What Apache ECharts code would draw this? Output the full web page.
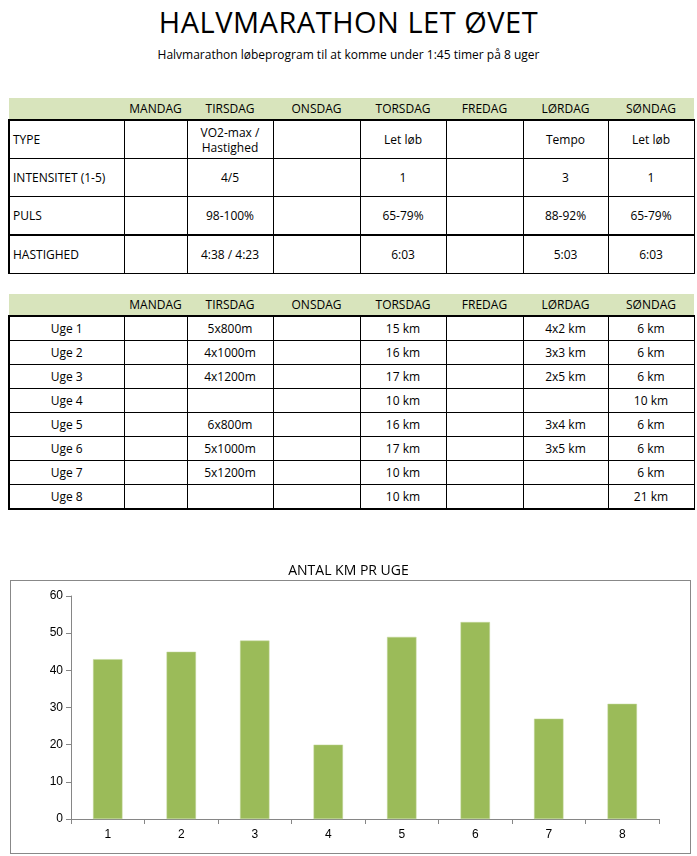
<!DOCTYPE html>
<html>
<head>
<meta charset="utf-8">
<script src="https://cdn.jsdelivr.net/npm/echarts@6/dist/echarts.min.js"></script>
<style>
body { margin: 0; width: 697px; height: 856px; background: #fff; font-family: "Open Sans", sans-serif; position: relative; overflow: hidden; }
h1 { position: absolute; top: 2px; left: 0; width: 697px; margin: 0; text-align: center; font-weight: normal; font-size: 29px; letter-spacing: 0.5px; }
.sub { position: absolute; top: 46px; left: 0; width: 697px; text-align: center; font-size: 12px; }
table { position: absolute; left: 8px; border-collapse: collapse; font-size: 12px; table-layout: fixed; }
td { text-align: center; padding: 0; line-height: 15px; }
td.l { text-align: left; padding-left: 3px; }
tr.hd td { background: #d8e4bc; height: 21px; border-bottom: 2px solid #000; }
#t1 td, #t2 td { border-left: 1px solid #000; }
#t1 tr.hd td, #t2 tr.hd td { border-left: none; }
#t1 tr:not(.hd) td { height: 37px; border-bottom: 1px solid #000; }
#t1 tr:not(.hd) td:first-child, #t2 tr:not(.hd) td:first-child { border-left: 2px solid #000; }
#t1 tr:not(.hd) td:last-child, #t2 tr:not(.hd) td:last-child { border-right: 1px solid #000; }
#t1 tr.thick td { border-bottom: 2px solid #000; }
#t2 tr:not(.hd) td { height: 23px; border-bottom: 1px solid #000; }
#t2 tr:last-child td { border-bottom: 2px solid #000; }
#box { position: absolute; left: 10px; top: 580px; width: 679px; height: 272px; border: 1px solid #888; }
#chart { position: absolute; left: 0; top: 540px; width: 697px; height: 316px; }
</style>
</head>
<body>
<h1>HALVMARATHON LET ØVET</h1>
<div class="sub">Halvmarathon løbeprogram til at komme under 1:45 timer på 8 uger</div>
<table id="t1"></table>
<table id="t2"></table>
<div id="box"></div>
<div id="chart"></div>
<script>
var days = ['', 'MANDAG', 'TIRSDAG', 'ONSDAG', 'TORSDAG', 'FREDAG', 'LØRDAG', 'SØNDAG'];
var colWidths = [115, 63, 86, 87, 86, 77, 85, 86];
var infoRows = [
    ['TYPE', '', 'VO2-max /<br>Hastighed', '', 'Let løb', '', 'Tempo', 'Let løb'],
    ['INTENSITET (1-5)', '', '4/5', '', '1', '', '3', '1'],
    ['PULS', '', '98-100%', '', '65-79%', '', '88-92%', '65-79%'],
    ['HASTIGHED', '', '4:38 / 4:23', '', '6:03', '', '5:03', '6:03']
];
var weekRows = [
    ['Uge 1', '', '5x800m', '', '15 km', '', '4x2 km', '6 km'],
    ['Uge 2', '', '4x1000m', '', '16 km', '', '3x3 km', '6 km'],
    ['Uge 3', '', '4x1200m', '', '17 km', '', '2x5 km', '6 km'],
    ['Uge 4', '', '', '', '10 km', '', '', '10 km'],
    ['Uge 5', '', '6x800m', '', '16 km', '', '3x4 km', '6 km'],
    ['Uge 6', '', '5x1000m', '', '17 km', '', '3x5 km', '6 km'],
    ['Uge 7', '', '5x1200m', '', '10 km', '', '', '6 km'],
    ['Uge 8', '', '', '', '10 km', '', '', '21 km']
];
var weeks = ['1', '2', '3', '4', '5', '6', '7', '8'];
var kmPerWeek = [43, 45, 48, 20, 49, 53, 27, 31];

function buildTable(id, top, rows, leftAlign) {
    var t = document.getElementById(id);
    t.style.top = top + 'px';
    var html = '<colgroup>' + colWidths.map(function (w) { return '<col style="width:' + w + 'px">'; }).join('') + '</colgroup>';
    html += '<tr class="hd">' + days.map(function (d) { return '<td>' + d + '</td>'; }).join('') + '</tr>';
    rows.forEach(function (r, i) {
        var cls = (id === 't1' && i === 2) ? ' class="thick"' : '';
        html += '<tr' + cls + '>' + r.map(function (c, j) {
            return '<td' + (j === 0 && leftAlign ? ' class="l"' : '') + '>' + c + '</td>';
        }).join('') + '</tr>';
    });
    t.innerHTML = html;
}
buildTable('t1', 98, infoRows, true);
buildTable('t2', 294, weekRows, false);

var myChart = echarts.init(document.getElementById('chart'));
myChart.setOption({
    animation: false,
    title: {
        text: 'ANTAL KM PR UGE',
        left: 'center',
        top: 19,
        textStyle: { fontSize: 14, fontWeight: 'normal', color: '#000', fontFamily: 'Open Sans' }
    },
    grid: { left: 71, right: 38, top: 56, bottom: 37 },
    xAxis: {
        type: 'category',
        data: weeks,
        axisLine: { lineStyle: { color: '#868686' } },
        axisTick: { show: true, length: 5, lineStyle: { color: '#868686' } },
        axisLabel: { color: '#000', fontSize: 12, margin: 10 }
    },
    yAxis: {
        type: 'value',
        min: 0,
        max: 60,
        interval: 10,
        axisLine: { show: true, lineStyle: { color: '#868686' } },
        axisTick: { show: true, length: 5, lineStyle: { color: '#868686' } },
        axisLabel: { color: '#000', fontSize: 12, margin: 8 },
        splitLine: { show: false }
    },
    series: [{
        type: 'bar',
        data: kmPerWeek,
        barWidth: '40%',
        itemStyle: { color: '#9bbb59', borderColor: '#c3d69b', borderWidth: 0.5 }
    }]
});
</script>
</body>
</html>
